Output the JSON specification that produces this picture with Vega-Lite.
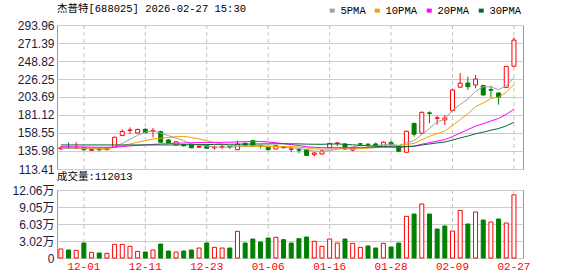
{
  "$schema": "https://vega.github.io/schema/vega-lite/v6.json",
  "padding": {"left": 5, "top": 3, "right": 5, "bottom": 2},
  "background": "white",
  "config": {
    "view": {"stroke": "#999999"},
    "axis": {"domain": false, "ticks": false, "labelFont": "Liberation Sans, Noto Sans CJK SC", "labelFontSize": 12, "labelColor": "#1c1c3c", "gridColor": "#cccccc", "gridWidth": 1, "labelOverlap": false},
    "title": {"font": "Liberation Mono, Noto Sans CJK SC", "fontSize": 10.5, "fontWeight": "normal", "anchor": "start", "frame": "group", "color": "#000000"},
    "concat": {"spacing": -5}
  },
  "datasets": {
    "k": [
      {"d":"11-26","o":138.8,"h":141.5,"l":137.5,"c":140.0,"v":16000,"ma5":139.5,"ma10":140.4,"ma20":141.5,"ma30":143.6},
      {"d":"11-27","o":140.2,"h":146.5,"l":139.0,"c":139.6,"v":14200,"ma5":139.4,"ma10":140.2,"ma20":141.3,"ma30":143.6},
      {"d":"11-28","o":139.2,"h":146.9,"l":138.4,"c":139.8,"v":13600,"ma5":139.6,"ma10":140.0,"ma20":141.2,"ma30":143.6},
      {"d":"12-01","o":140.2,"h":140.8,"l":136.4,"c":137.6,"v":26600,"ma5":139.2,"ma10":139.8,"ma20":141.0,"ma30":143.6},
      {"d":"12-02","o":136.8,"h":138.5,"l":136.0,"c":137.8,"v":10000,"ma5":138.96,"ma10":139.6,"ma20":140.8,"ma30":143.6},
      {"d":"12-03","o":138.5,"h":140.4,"l":135.8,"c":137.5,"v":8900,"ma5":138.46,"ma10":139.5,"ma20":140.7,"ma30":143.6},
      {"d":"12-04","o":138.0,"h":140.6,"l":136.4,"c":139.2,"v":8300,"ma5":138.38,"ma10":139.4,"ma20":140.6,"ma30":143.6},
      {"d":"12-05","o":140.6,"h":153.8,"l":140.0,"c":153.2,"v":24200,"ma5":141.06,"ma10":140.6,"ma20":141.0,"ma30":143.6},
      {"d":"12-08","o":155.5,"h":163.0,"l":154.5,"c":160.5,"v":24200,"ma5":145.64,"ma10":142.4,"ma20":141.6,"ma30":143.6},
      {"d":"12-09","o":161.8,"h":165.6,"l":157.3,"c":162.3,"v":20700,"ma5":150.54,"ma10":144.75,"ma20":142.3,"ma30":143.6},
      {"d":"12-10","o":158.5,"h":164.0,"l":158.0,"c":163.0,"v":11800,"ma5":155.64,"ma10":147.05,"ma20":143.0,"ma30":143.6},
      {"d":"12-11","o":163.2,"h":164.5,"l":158.5,"c":158.8,"v":10600,"ma5":159.56,"ma10":148.97,"ma20":143.6,"ma30":143.6},
      {"d":"12-12","o":161.0,"h":164.8,"l":153.2,"c":161.5,"v":14200,"ma5":161.22,"ma10":151.14,"ma20":144.3,"ma30":143.6},
      {"d":"12-15","o":160.2,"h":161.5,"l":146.5,"c":147.0,"v":24800,"ma5":158.52,"ma10":152.08,"ma20":144.8,"ma30":143.6},
      {"d":"12-16","o":149.8,"h":151.0,"l":145.6,"c":146.0,"v":12400,"ma5":155.26,"ma10":152.9,"ma20":145.2,"ma30":143.6},
      {"d":"12-17","o":143.5,"h":147.8,"l":143.0,"c":147.5,"v":10600,"ma5":152.16,"ma10":153.9,"ma20":145.7,"ma30":143.6},
      {"d":"12-18","o":144.0,"h":144.8,"l":141.4,"c":142.6,"v":12400,"ma5":148.92,"ma10":154.24,"ma20":146.0,"ma30":143.8},
      {"d":"12-19","o":144.5,"h":145.0,"l":139.5,"c":140.0,"v":14200,"ma5":144.62,"ma10":152.92,"ma20":146.3,"ma30":143.9},
      {"d":"12-22","o":140.6,"h":143.5,"l":140.2,"c":141.8,"v":17700,"ma5":143.58,"ma10":151.05,"ma20":146.6,"ma30":144.0},
      {"d":"12-23","o":142.6,"h":143.0,"l":139.0,"c":139.4,"v":26600,"ma5":142.26,"ma10":148.76,"ma20":146.76,"ma30":144.1},
      {"d":"12-24","o":140.0,"h":142.7,"l":137.5,"c":140.6,"v":18900,"ma5":140.88,"ma10":146.52,"ma20":146.79,"ma30":144.2},
      {"d":"12-25","o":141.0,"h":143.5,"l":138.5,"c":141.8,"v":17700,"ma5":140.72,"ma10":144.82,"ma20":146.9,"ma30":144.3},
      {"d":"12-26","o":141.7,"h":142.0,"l":138.5,"c":141.0,"v":17700,"ma5":140.92,"ma10":142.77,"ma20":146.96,"ma30":144.4},
      {"d":"12-29","o":137.6,"h":148.9,"l":137.2,"c":144.6,"v":47300,"ma5":141.48,"ma10":142.53,"ma20":147.31,"ma30":144.5},
      {"d":"12-30","o":145.6,"h":146.5,"l":142.0,"c":143.0,"v":26600,"ma5":142.2,"ma10":142.23,"ma20":147.57,"ma30":144.6},
      {"d":"12-31","o":149.0,"h":150.2,"l":142.0,"c":142.6,"v":33700,"ma5":142.6,"ma10":141.74,"ma20":147.82,"ma30":144.7},
      {"d":"01-05","o":142.5,"h":143.9,"l":139.4,"c":142.2,"v":28400,"ma5":142.68,"ma10":141.7,"ma20":147.97,"ma30":144.8},
      {"d":"01-06","o":140.6,"h":141.0,"l":136.5,"c":137.6,"v":35500,"ma5":142.0,"ma10":141.46,"ma20":147.19,"ma30":144.9},
      {"d":"01-07","o":138.5,"h":143.0,"l":138.0,"c":142.6,"v":36700,"ma5":141.6,"ma10":141.54,"ma20":146.3,"ma30":145.0},
      {"d":"01-08","o":141.4,"h":141.8,"l":139.4,"c":140.0,"v":32500,"ma5":141.0,"ma10":141.6,"ma20":145.18,"ma30":145.04},
      {"d":"01-09","o":138.0,"h":140.6,"l":134.4,"c":138.5,"v":26600,"ma5":140.18,"ma10":141.39,"ma20":143.96,"ma30":144.99},
      {"d":"01-12","o":137.6,"h":138.5,"l":133.1,"c":137.0,"v":34300,"ma5":139.14,"ma10":140.91,"ma20":142.87,"ma30":144.9},
      {"d":"01-13","o":137.5,"h":138.5,"l":129.5,"c":130.5,"v":37200,"ma5":137.72,"ma10":139.86,"ma20":141.32,"ma30":144.59},
      {"d":"01-14","o":131.8,"h":134.5,"l":129.0,"c":133.5,"v":29600,"ma5":135.9,"ma10":138.75,"ma20":140.64,"ma30":144.45},
      {"d":"01-15","o":132.2,"h":137.0,"l":131.8,"c":136.0,"v":20700,"ma5":135.1,"ma10":138.05,"ma20":140.14,"ma30":144.39},
      {"d":"01-16","o":140.2,"h":146.5,"l":139.8,"c":145.5,"v":33700,"ma5":136.5,"ma10":138.34,"ma20":140.04,"ma30":144.66},
      {"d":"01-19","o":145.6,"h":147.0,"l":142.0,"c":146.0,"v":26600,"ma5":138.3,"ma10":138.72,"ma20":140.21,"ma30":144.89},
      {"d":"01-20","o":144.8,"h":145.6,"l":137.5,"c":138.5,"v":33700,"ma5":139.9,"ma10":138.81,"ma20":140.14,"ma30":144.4},
      {"d":"01-21","o":137.2,"h":140.6,"l":135.6,"c":139.8,"v":26000,"ma5":141.16,"ma10":138.53,"ma20":140.04,"ma30":143.71},
      {"d":"01-22","o":145.0,"h":145.6,"l":141.8,"c":144.6,"v":18900,"ma5":142.88,"ma10":138.99,"ma20":140.3,"ma30":143.12},
      {"d":"01-23","o":144.6,"h":145.0,"l":140.6,"c":144.2,"v":21300,"ma5":142.62,"ma10":139.56,"ma20":140.48,"ma30":142.49},
      {"d":"01-26","o":144.8,"h":146.5,"l":140.6,"c":142.8,"v":17700,"ma5":141.98,"ma10":140.14,"ma20":140.53,"ma30":141.96},
      {"d":"01-27","o":142.0,"h":148.0,"l":141.5,"c":147.0,"v":26000,"ma5":143.68,"ma10":141.79,"ma20":140.83,"ma30":141.47},
      {"d":"01-28","o":146.5,"h":148.9,"l":143.5,"c":144.6,"v":19500,"ma5":144.64,"ma10":142.9,"ma20":140.83,"ma30":141.39},
      {"d":"01-29","o":142.6,"h":143.5,"l":134.4,"c":135.6,"v":26600,"ma5":142.84,"ma10":142.86,"ma20":140.46,"ma30":141.05},
      {"d":"01-30","o":134.4,"h":161.5,"l":134.0,"c":160.7,"v":73900,"ma5":146.14,"ma10":144.38,"ma20":141.36,"ma30":141.49},
      {"d":"02-02","o":170.5,"h":171.5,"l":154.0,"c":157.0,"v":78000,"ma5":148.98,"ma10":145.48,"ma20":142.1,"ma30":141.97},
      {"d":"02-03","o":158.3,"h":185.5,"l":157.5,"c":184.5,"v":95800,"ma5":156.48,"ma10":150.08,"ma20":144.45,"ma30":143.45},
      {"d":"02-04","o":183.8,"h":185.7,"l":171.0,"c":183.0,"v":78000,"ma5":164.16,"ma10":154.4,"ma20":146.47,"ma30":144.82},
      {"d":"02-05","o":177.0,"h":180.3,"l":169.0,"c":177.6,"v":51400,"ma5":172.56,"ma10":157.7,"ma20":148.35,"ma30":146.1},
      {"d":"02-06","o":175.0,"h":181.1,"l":168.6,"c":177.4,"v":56800,"ma5":175.9,"ma10":161.02,"ma20":150.29,"ma30":147.32},
      {"d":"02-09","o":186.6,"h":214.0,"l":186.0,"c":212.4,"v":47900,"ma5":186.98,"ma10":167.98,"ma20":154.06,"ma30":149.68},
      {"d":"02-10","o":216.0,"h":233.5,"l":215.5,"c":221.0,"v":84500,"ma5":194.28,"ma10":175.38,"ma20":158.59,"ma30":152.34},
      {"d":"02-11","o":221.2,"h":229.2,"l":212.5,"c":216.6,"v":60300,"ma5":201.0,"ma10":182.58,"ma20":162.74,"ma30":154.74},
      {"d":"02-12","o":218.7,"h":231.3,"l":214.5,"c":226.2,"v":81600,"ma5":210.72,"ma10":191.64,"ma20":167.25,"ma30":157.52},
      {"d":"02-13","o":217.9,"h":219.2,"l":205.5,"c":206.2,"v":67400,"ma5":216.48,"ma10":196.19,"ma20":170.29,"ma30":159.64},
      {"d":"02-24","o":213.0,"h":217.9,"l":203.3,"c":212.2,"v":63800,"ma5":216.44,"ma10":201.71,"ma20":173.6,"ma30":161.97},
      {"d":"02-25","o":208.7,"h":209.5,"l":194.1,"c":203.3,"v":69200,"ma5":212.9,"ma10":203.59,"ma20":176.84,"ma30":164.16},
      {"d":"02-26","o":215.8,"h":242.5,"l":215.0,"c":242.0,"v":62100,"ma5":217.98,"ma10":209.49,"ma20":181.95,"ma30":167.47},
      {"d":"02-27","o":242.3,"h":278.5,"l":241.0,"c":275.0,"v":112013,"ma5":227.74,"ma10":219.23,"ma20":188.47,"ma30":171.97}
    ]
  },
  "vconcat": [
    {
      "width": 466,
      "height": 144,
      "title": {"text": "杰普特[688025] 2026-02-27 15:30", "offset": 5},
      "data": {"name": "k"},
      "encoding": {
        "x": {
          "field": "d", "type": "ordinal", "sort": null,
          "scale": {"type": "band", "paddingInner": 0, "paddingOuter": 0.34, "align": 0},
          "axis": null
        }
      },
      "layer": [
        {
          "mark": {"type": "rule", "strokeDash": [4, 3], "color": "#c4c4c4", "strokeWidth": 1},
          "encoding": {
            "strokeOpacity": {"condition": {"test": "indexof(['12-01','12-11','12-23','01-06','01-16','01-28','02-09','02-27'], datum.d) >= 0", "value": 1}, "value": 0}
          }
        },
        {
          "mark": {"type": "rule", "strokeWidth": 1},
          "encoding": {
            "y": {"field": "l", "type": "quantitative",
                  "scale": {"domain": [113.41, 293.96], "nice": false, "zero": false},
                  "axis": {"title": null, "values": [113.41, 135.98, 158.55, 181.12, 203.69, 226.25, 248.82, 271.39, 293.96], "tickCount": 20, "format": ".2f", "grid": true, "labelOverlap": false, "minExtent": 51, "maxExtent": 51, "labelPadding": 3}},
            "y2": {"field": "h"},
            "stroke": {"condition": {"test": "datum.c >= datum.o", "value": "#ff0000"}, "value": "#008000"}
          }
        },
        {
          "mark": {"type": "bar", "size": 4, "strokeWidth": 1},
          "encoding": {
            "y": {"field": "o", "type": "quantitative", "scale": {"domain": [113.41, 293.96], "nice": false, "zero": false}},
            "y2": {"field": "c"},
            "fill": {"condition": {"test": "datum.c >= datum.o", "value": "#ffffff"}, "value": "#008000"},
            "stroke": {"condition": {"test": "datum.c >= datum.o", "value": "#ff0000"}, "value": "#008000"}
          }
        },
        {
          "transform": [{"fold": ["ma5", "ma10", "ma20", "ma30"], "as": ["key", "val"]}],
          "mark": {"type": "line", "strokeWidth": 1},
          "encoding": {
            "y": {"field": "val", "type": "quantitative", "scale": {"domain": [113.41, 293.96], "nice": false, "zero": false}},
            "order": {"value": null},
            "color": {
              "field": "key", "type": "nominal",
              "scale": {"domain": ["ma5", "ma10", "ma20", "ma30"], "range": ["#a0a0a0", "#f0a000", "#ff00ff", "#006a32"]},
              "legend": {
                "orient": "none", "legendX": 270, "legendY": -20, "direction": "horizontal", "title": null,
                "labelExpr": "{'ma5':'5PMA','ma10':'10PMA','ma20':'20PMA','ma30':'30PMA'}[datum.label]",
                "symbolType": "stroke", "symbolStrokeWidth": 4, "symbolSize": 25, "labelOffset": 3,
                "labelFont": "Liberation Mono", "labelFontSize": 10.5, "labelColor": "#000000", "columnPadding": 0
              }
            }
          }
        }
      ]
    },
    {
      "width": 466,
      "height": 68,
      "title": {"text": "成交量:112013", "offset": 2},
      "data": {"name": "k"},
      "transform": [{"window": [{"op": "lag", "field": "c", "as": "pc"}]}],
      "encoding": {
        "x": {
          "field": "d", "type": "ordinal", "sort": null,
          "scale": {"type": "band", "paddingInner": 0, "paddingOuter": 0.34, "align": 0},
          "axis": {"title": null, "grid": false, "labelAngle": 0,
                   "values": ["12-01", "12-11", "12-23", "01-06", "01-16", "01-28", "02-09", "02-27"],
                   "labelColor": "#ff0000", "labelFont": "Liberation Mono", "labelFontSize": 11, "labelPadding": 2}
        }
      },
      "layer": [
        {
          "mark": {"type": "rule", "strokeDash": [4, 3], "color": "#c4c4c4", "strokeWidth": 1},
          "encoding": {
            "strokeOpacity": {"condition": {"test": "indexof(['12-01','12-11','12-23','01-06','01-16','01-28','02-09','02-27'], datum.d) >= 0", "value": 1}, "value": 0}
          }
        },
        {
          "mark": {"type": "bar", "size": 4, "strokeWidth": 1},
          "encoding": {
            "y": {
              "field": "v", "type": "quantitative",
              "scale": {"domain": [0, 120620], "nice": false},
              "axis": {"title": null, "values": [0, 30155, 60310, 90465, 120620], "tickCount": 20, "grid": true, "labelOverlap": false,
                       "labelExpr": "datum.value == 0 ? '0' : format(datum.value / 10000, '.2f') + '万'",
                       "minExtent": 51, "maxExtent": 51, "labelPadding": 3}
            },
            "fill": {"condition": {"test": "datum.pc == null || datum.c >= datum.pc", "value": "#ffffff"}, "value": "#008000"},
            "stroke": {"condition": {"test": "datum.pc == null || datum.c >= datum.pc", "value": "#ff0000"}, "value": "#008000"}
          }
        }
      ]
    }
  ]
}
